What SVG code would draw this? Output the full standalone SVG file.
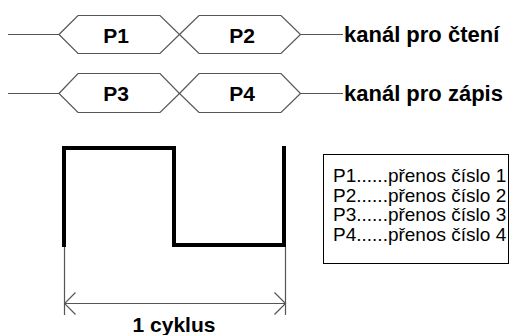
<svg xmlns="http://www.w3.org/2000/svg" width="515" height="335" viewBox="0 0 515 335">
<defs>
<style>
.hex{fill:none;stroke:#555;stroke-width:1.2}
.thin{fill:none;stroke:#555;stroke-width:1.2}
.thick{fill:none;stroke:#000;stroke-width:4;stroke-linejoin:miter;stroke-linecap:butt}
.lbl{font-family:"Liberation Sans",Arial,sans-serif;font-weight:bold;font-size:21px;fill:#000;text-anchor:middle}
.ch{font-family:"Liberation Sans",Arial,sans-serif;font-weight:bold;font-size:22px;fill:#000}
.lg{font-family:"Liberation Sans",Arial,sans-serif;font-size:19px;fill:#000}
</style>
<marker id="oa" viewBox="0 0 13 24" refX="12" refY="12" markerWidth="13" markerHeight="24" markerUnits="userSpaceOnUse" orient="auto-start-reverse">
<path d="M1,1 L12,12 L1,23" fill="none" stroke="#555" stroke-width="1.2"/>
</marker>
</defs>
<rect width="515" height="335" fill="#fff"/>
<g id="connectors">
<line class="thin" x1="8" y1="34.5" x2="59" y2="34.5"/>
<line class="thin" x1="300.5" y1="34.5" x2="343" y2="34.5"/>
<line class="thin" x1="8" y1="93.5" x2="59" y2="93.5"/>
<line class="thin" x1="300.5" y1="93.5" x2="343" y2="93.5"/>
</g>
<g id="P1">
<polygon class="hex" points="59,34.5 78,15.5 160,15.5 179.5,34.5 160,53.5 78,53.5"/>
<text class="lbl" x="116" y="43">P1</text>
</g>
<g id="P2">
<polygon class="hex" points="179.5,34.5 199,15.5 281,15.5 300.5,34.5 281,53.5 199,53.5"/>
<text class="lbl" x="242" y="43">P2</text>
</g>
<g id="P3">
<polygon class="hex" points="59,93.5 78,73.5 160,73.5 179.5,93.5 160,112.5 78,112.5"/>
<text class="lbl" x="116" y="101">P3</text>
</g>
<g id="P4">
<polygon class="hex" points="179.5,93.5 199,73.5 281,73.5 300.5,93.5 281,112.5 199,112.5"/>
<text class="lbl" x="242" y="101">P4</text>
</g>
<g id="channel-read">
<text class="ch" x="344" y="41.5">kanál pro čtení</text>
</g>
<g id="channel-write">
<text class="ch" x="344" y="100.5">kanál pro zápis</text>
</g>
<g id="waveform">
<path class="thick" d="M64,247 L64,148 L174,148 L174,245 L284,245"/>
<line class="thick" x1="284" y1="146" x2="284" y2="247"/>
</g>
<g id="dimension">
<line class="thin" x1="64.5" y1="247" x2="64.5" y2="315"/>
<line class="thin" x1="285.5" y1="247" x2="285.5" y2="315"/>
<line class="thin" x1="64.5" y1="303.5" x2="285.5" y2="303.5" marker-start="url(#oa)" marker-end="url(#oa)"/>
<text class="lbl" x="174" y="332">1 cyklus</text>
</g>
<g id="legend">
<rect x="323.5" y="154.5" width="185" height="109" fill="none" stroke="#000" stroke-width="1"/>
<text class="lg" x="333" y="182">P1......přenos číslo 1</text>
<text class="lg" x="333" y="201.5">P2......přenos číslo 2</text>
<text class="lg" x="333" y="221">P3......přenos číslo 3</text>
<text class="lg" x="333" y="240.5">P4......přenos číslo 4</text>
</g>
</svg>
